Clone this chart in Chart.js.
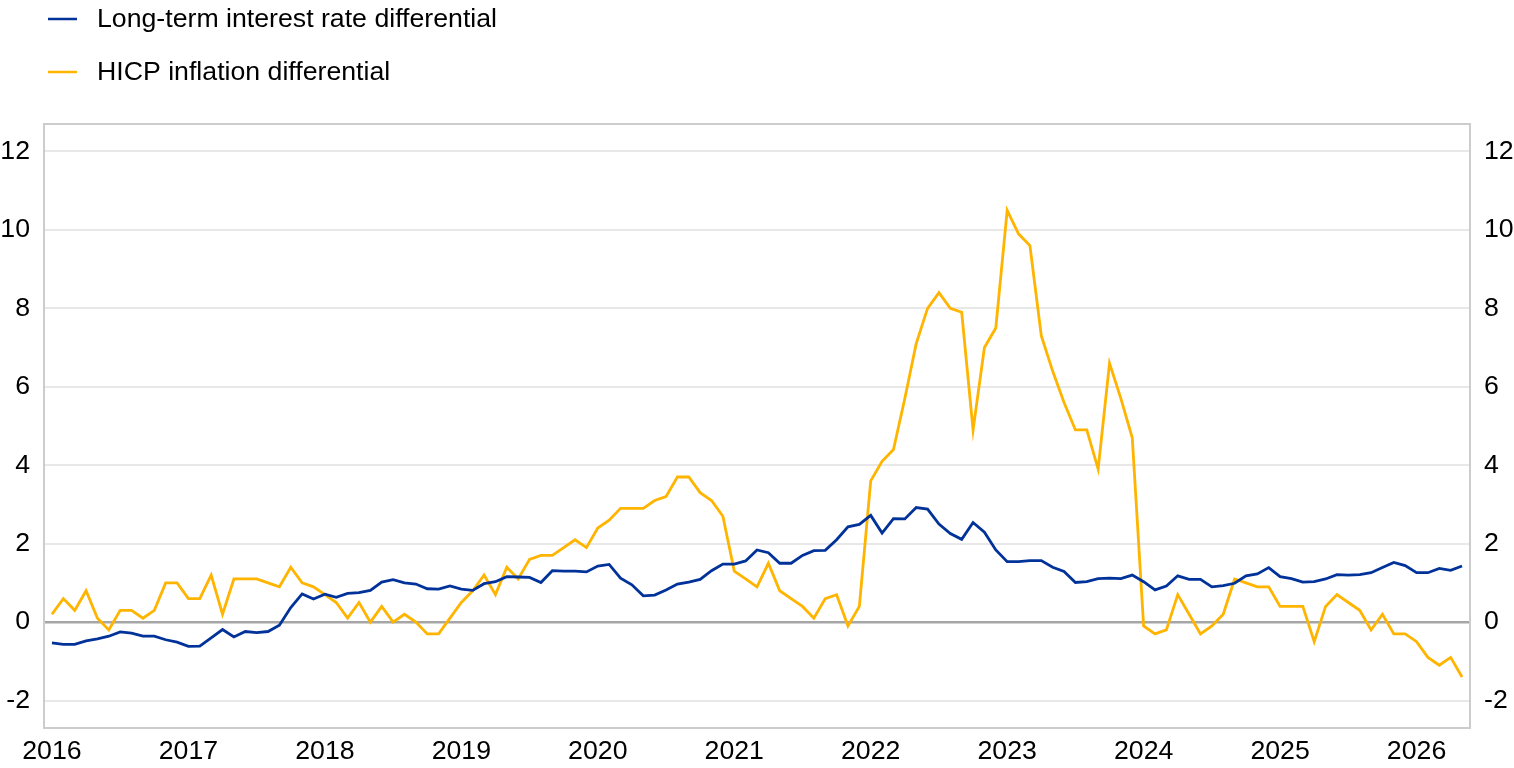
<!DOCTYPE html>
<html lang="en">

<head>
  <meta charset="utf-8">
  <title>Interest rate and inflation differentials</title>
  <script src="https://cdn.jsdelivr.net/npm/chart.js@4.4.0/dist/chart.umd.min.js"></script>
  <style>
    body { margin: 0; background: #fff; }
  </style>
</head>

<body>
  <canvas id="myChart" width="1514" height="768"></canvas>

  <script>
    // monthly data, Jan 2016 - May 2026
    const yearLabels = ['2016', '2017', '2018', '2019', '2020', '2021', '2022', '2023', '2024', '2025', '2026'];
    const yTicks = [-2, 0, 2, 4, 6, 8, 10, 12];

    const rateDiff = [
      -0.53, -0.57, -0.57, -0.48, -0.43, -0.36, -0.25, -0.28, -0.36, -0.36, -0.45, -0.51,
      -0.62, -0.61, -0.40, -0.19, -0.38, -0.24, -0.27, -0.24, -0.08, 0.37, 0.72, 0.59,
      0.71, 0.63, 0.73, 0.75, 0.81, 1.02, 1.08, 1.00, 0.97, 0.85, 0.84, 0.92,
      0.84, 0.81, 0.98, 1.03, 1.16, 1.15, 1.14, 1.01, 1.31, 1.30, 1.30, 1.28,
      1.43, 1.47, 1.12, 0.95, 0.67, 0.69, 0.82, 0.97, 1.02, 1.09, 1.31, 1.48,
      1.48, 1.56, 1.84, 1.77, 1.50, 1.50, 1.70, 1.82, 1.83, 2.10, 2.43, 2.49,
      2.72, 2.27, 2.64, 2.63, 2.92, 2.88, 2.50, 2.26, 2.11, 2.54, 2.29, 1.84,
      1.54, 1.54, 1.57, 1.57, 1.40, 1.29, 1.01, 1.03, 1.11, 1.12, 1.11, 1.20,
      1.03, 0.82, 0.92, 1.18, 1.09, 1.09, 0.90, 0.93, 0.99, 1.18, 1.23, 1.39,
      1.16, 1.11, 1.02, 1.03, 1.10, 1.21, 1.20, 1.21, 1.26, 1.39, 1.52, 1.44,
      1.26, 1.26, 1.37, 1.32, 1.43
    ];

    const hicpDiff = [
      0.2, 0.6, 0.3, 0.8, 0.1, -0.2, 0.3, 0.3, 0.1, 0.3, 1.0, 1.0,
      0.6, 0.6, 1.2, 0.2, 1.1, 1.1, 1.1, 1.0, 0.9, 1.4, 1.0, 0.9,
      0.7, 0.5, 0.1, 0.5, 0.0, 0.4, 0.0, 0.2, 0.0, -0.3, -0.3, 0.1,
      0.5, 0.8, 1.2, 0.7, 1.4, 1.1, 1.6, 1.7, 1.7, 1.9, 2.1, 1.9,
      2.4, 2.6, 2.9, 2.9, 2.9, 3.1, 3.2, 3.7, 3.7, 3.3, 3.1, 2.7,
      1.3, 1.1, 0.9, 1.5, 0.8, 0.6, 0.4, 0.1, 0.6, 0.7, -0.1, 0.4,
      3.6, 4.1, 4.4, 5.7, 7.1, 8.0, 8.4, 8.0, 7.9, 4.9, 7.0, 7.5,
      10.5, 9.9, 9.6, 7.3, 6.4, 5.6, 4.9, 4.9, 3.9, 6.6, 5.7, 4.7,
      -0.1, -0.3, -0.2, 0.7, 0.2, -0.3, -0.1, 0.2, 1.1, 1.0, 0.9, 0.9,
      0.4, 0.4, 0.4, -0.5, 0.4, 0.7, 0.5, 0.3, -0.2, 0.2, -0.3, -0.3,
      -0.5, -0.9, -1.1, -0.9, -1.4
    ];

    const FONT = { family: "'Liberation Sans', Arial, sans-serif", size: 26.7 };

    // month index -> point
    const toPoints = arr => arr.map((v, i) => ({ x: i, y: v }));

    // legend stacked in two rows above the plot, plus a frame round the plot area
    const extras = {
      id: 'extras',
      beforeDatasetsDraw(chart) {
        const { ctx, chartArea: a } = chart;
        ctx.save();
        ctx.strokeStyle = '#cccccc';
        ctx.lineWidth = 2;
        ctx.strokeRect(a.left, a.top, a.right - a.left, a.bottom - a.top);
        ctx.restore();
      },
      afterDraw(chart) {
        const ctx = chart.ctx;
        ctx.save();
        ctx.font = `${FONT.size}px ${FONT.family}`;
        ctx.textBaseline = 'middle';
        ctx.fillStyle = '#000';
        chart.data.datasets.forEach((ds, i) => {
          const y = 19 + i * 53;
          ctx.strokeStyle = ds.borderColor;
          ctx.lineWidth = 2.5;
          ctx.beginPath();
          ctx.moveTo(48, y);
          ctx.lineTo(77, y);
          ctx.stroke();
          ctx.fillText(ds.label, 97, y + 1);
        });
        ctx.restore();
      }
    };

    const yAxis = (position) => ({
      position: position,
      min: -2.7,
      max: 12.7,
      afterBuildTicks: axis => { axis.ticks = yTicks.map(v => ({ value: v })); },
      afterFit: axis => { axis.width = 43; },
      grid: {
        display: position === 'left',
        drawTicks: false,
        color: c => (c.tick && c.tick.value === 0) ? '#a6a6a6' : '#e8e8e8',
        lineWidth: c => (c.tick && c.tick.value === 0) ? 2.5 : 2
      },
      border: { display: false },
      ticks: { font: FONT, color: '#000', padding: 14 }
    });

    const config = {
      type: 'line',
      data: {
        datasets: [{
            label: 'Long-term interest rate differential',
            data: toPoints(rateDiff),
            borderColor: '#003299',
            borderWidth: 2.8,
            pointRadius: 0,
            tension: 0
          },
          {
            label: 'HICP inflation differential',
            data: toPoints(hicpDiff),
            borderColor: '#ffb400',
            borderWidth: 2.8,
            pointRadius: 0,
            tension: 0
          }
        ]
      },
      options: {
        responsive: false,
        animation: false,
        layout: { padding: { top: 124, left: 1, right: 1, bottom: 1 } },
        scales: {
          x: {
            type: 'linear',
            min: -0.7,
            max: 124.7,
            afterBuildTicks: axis => {
              axis.ticks = yearLabels.map((_, i) => ({ value: i * 12 }));
            },
            afterFit: axis => {
              axis.height = 39;
              axis.paddingLeft = 0;
              axis.paddingRight = 0;
            },
            grid: { display: false, drawTicks: false },
            border: { display: false },
            ticks: {
              font: FONT,
              color: '#000',
              padding: 8,
              maxRotation: 0,
              autoSkip: false,
              callback: v => yearLabels[v / 12]
            }
          },
          y: yAxis('left'),
          y2: yAxis('right')
        },
        plugins: {
          legend: { display: false },
          tooltip: { enabled: false }
        }
      },
      plugins: [extras]
    };

    new Chart(document.getElementById('myChart'), config);
  </script>

</body>

</html>
